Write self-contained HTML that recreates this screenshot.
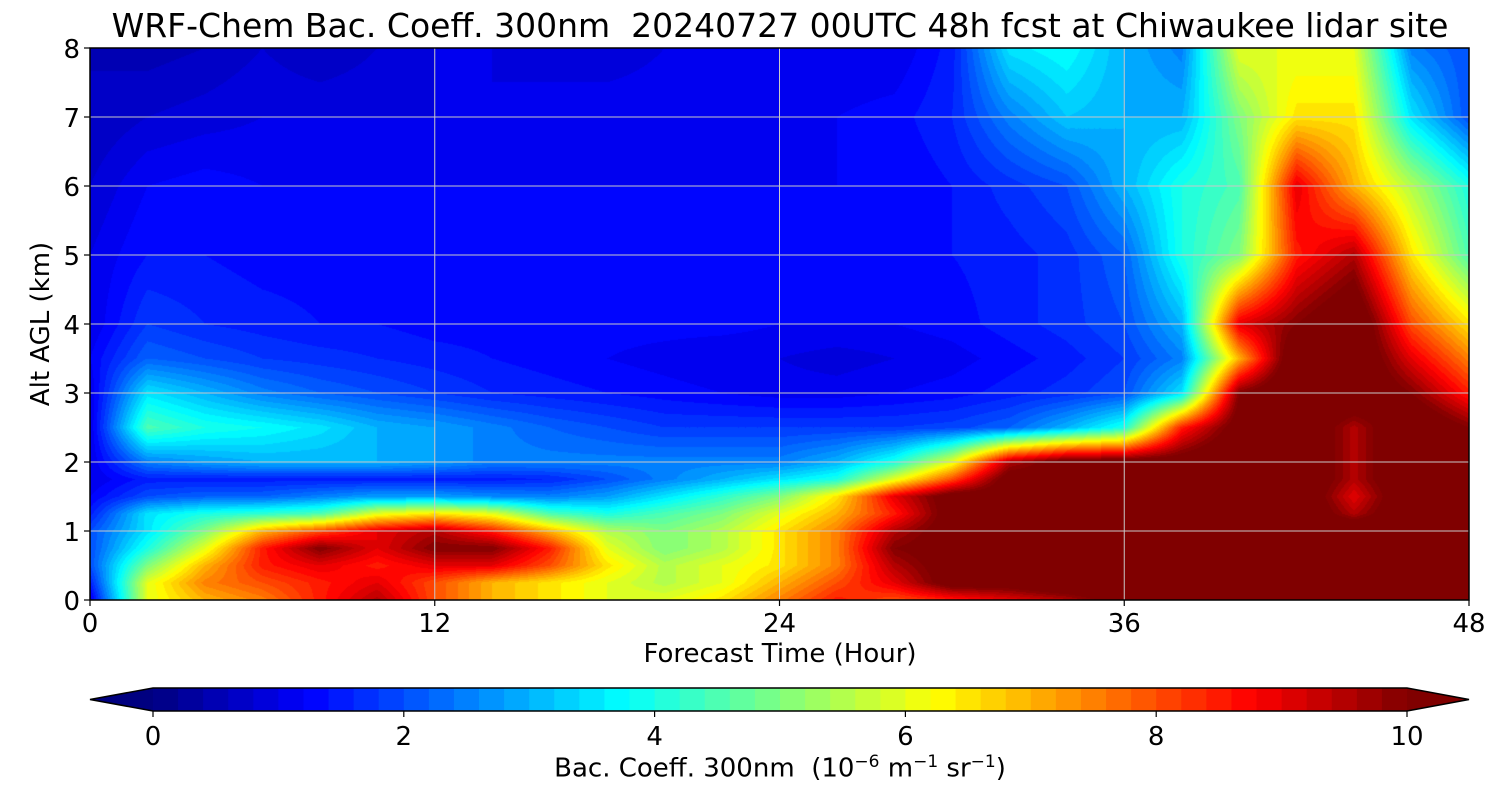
<!DOCTYPE html>
<html><head><meta charset="utf-8">
<style>
body{margin:0;background:#fff;font-family:"DejaVu Sans","Liberation Sans",sans-serif;}
#wrap{position:relative;width:1500px;height:800px;overflow:hidden;}
.t{position:absolute;color:#000;white-space:nowrap;}
</style></head>
<body>
<div id="wrap">
<div class="t" style="left:780px;transform:translateX(-50%);top:6px;font-size:33px;">WRF-Chem Bac. Coeff. 300nm&nbsp; 20240727 00UTC 48h fcst at Chiwaukee lidar site</div>
<canvas id="cv" width="1379" height="552" style="position:absolute;left:90px;top:48px;"></canvas>
<svg id="sv" width="1500" height="800" style="position:absolute;left:0;top:0;"></svg>
<div class="t" style="left:41px;top:324px;font-size:26px;transform:translate(-50%,-50%) rotate(-90deg);">Alt AGL (km)</div>
<div class="t" style="left:780px;top:639px;font-size:26px;transform:translateX(-50%);">Forecast Time (Hour)</div>
<div class="t" style="left:780px;top:752px;font-size:26px;transform:translateX(-50%);">Bac. Coeff. 300nm&nbsp; (10<sup style="font-size:17px">−6</sup> m<sup style="font-size:17px">−1</sup> sr<sup style="font-size:17px">−1</sup>)</div>
</div>
<script>
const times=[0,2,4,6,8,10,12,14,16,18,20,22,24,26,28,30,32,34,36,38,40,42,44,46,48];
const alts=[0,0.25,0.5,0.75,1,1.25,1.5,1.75,2,2.5,3,3.5,4,5,6,7,8];
const row0  =[1,6,7,7.5,8.5,9.5,8,7,6.5,6,6,6.5,7.5,8.5,8,8.5,9,9.5,10.5,11,11,11,11,11,11];
const row025=[1.5,6,7.5,8,8.5,9,8,7,6.5,6,5.5,6,7,8,9,10.5,10.5,11,11,11,11,11,11,11,11];
const row05 =[2,5,7,8.5,9,8.5,9,9,8,6.5,5.5,6,6.5,7.5,9.5,10.5,11,11,11,11,11,11,11,11,11];
const row075=[2,4,6,8.5,10,9,10,10,8.5,6,5,5.5,6.5,7.5,10,10.5,11,11,11,11,11,11,11,11,11];
const row1  =[2,3.5,5,7,8,9,9.5,8.5,7,5.5,5,5.5,6.5,7.5,9.5,10.5,11,11,11,11,11,11,11,11,11];
const row125=[1.5,3.5,4,4.2,4.5,6,6.5,6,4.5,4,4.5,5,6,7,8.5,10.5,10.5,11,11,11,11,11,9.5,11,11];
const row15 =[1.2,2,2.2,2.2,2.5,2.8,2.8,2.6,2.5,2.8,3.5,4.2,5,6.5,9,10.5,10.5,10.5,11,11,11,11,9,11,11];
const row175=[1,1.5,1.5,1.5,1.5,1.5,1.5,1.5,1.6,2,2.5,3,3.5,4,6,8,10.5,10.5,10.5,11,11,11,9.5,11,11];
const row2  =[1,2.5,2.8,3,3,3,2.8,2.5,2.5,2.5,2.5,2.5,2.5,3,4,6,9.5,10.5,10.5,10.5,11,11,9.5,11,11];
const row25 =[1,4.5,4,3.8,3.5,3,2.8,2.5,2.2,2,1.8,1.8,1.8,1.8,1.8,1.9,2.2,3,4,8.5,10.5,11,9.5,11,10];
const row3  =[1,3.5,3,2.5,2.2,2,1.8,1.6,1.5,1.4,1.3,1.2,1.1,1.1,1.2,1.3,1.5,1.7,2,3.5,10,11,11,10,8.5];
const row35 =[1.2,2.2,2,1.8,1.7,1.6,1.5,1.4,1.3,1.2,1.1,1,1,0.9,1,1.1,1.3,1.5,1.8,2.5,7,11,11,9,7.5];
const row4  =[1,1.8,1.6,1.5,1.4,1.4,1.3,1.3,1.3,1.3,1.3,1.3,1.2,1.2,1.2,1.3,1.5,1.7,2,3,9,10,11,8,6.5];
const row5  =[1,1.4,1.4,1.3,1.3,1.3,1.3,1.3,1.3,1.3,1.3,1.3,1.3,1.3,1.3,1.4,1.5,1.7,2.2,4,5,8.5,9.5,6.5,4.5];
const row6  =[0.8,1.2,1.3,1.2,1.2,1.2,1.2,1.2,1.2,1.2,1.2,1.2,1.2,1.2,1.2,1.4,1.7,2,3,4,4.5,9,7,5.5,4];
const row7  =[0.6,0.8,0.9,1,1,1,1,1,1.1,1.1,1.1,1.1,1.2,1.2,1.3,1.6,2.5,3.2,3,3,5,6.5,6.5,3.5,2];
const row8  =[0.6,0.5,0.6,0.8,0.6,0.8,1,1,0.9,0.9,1,1.1,1.2,1,1,1.5,3.5,3.8,3,2.5,6,6,6,2.5,2];
const grid=[row0,row025,row05,row075,row1,row125,row15,row175,row2,row25,row3,row35,row4,row5,row6,row7,row8];
const cbTicks=[0,2,4,6,8,10];
const xTicks=[0,12,24,36,48];
const yTicks=[0,1,2,3,4,5,6,7,8];

const PX=90,PY=48,PW=1379,PH=552;
const xs=t=>PX+t/48*PW, ys=a=>PY+PH-a/8*PH;
function jet(x){x=Math.max(0,Math.min(1,x));const c=v=>Math.round(255*Math.max(0,Math.min(1,v)));
 return [c(1.5-Math.abs(4*x-3)),c(1.5-Math.abs(4*x-2)),c(1.5-Math.abs(4*x-1))];}
function lev(v){if(v>=10)return[128,0,0];if(v<0)return[0,0,128];const k=Math.floor(v/0.2);return jet((k+0.5)/50);}
function interp(t,a){
 let i=0;while(i<times.length-2&&times[i+1]<t)i++;
 let j=0;while(j<alts.length-2&&alts[j+1]<a)j++;
 const ft=(t-times[i])/(times[i+1]-times[i]),fa=(a-alts[j])/(alts[j+1]-alts[j]);
 const v00=grid[j][i],v01=grid[j][i+1],v10=grid[j+1][i],v11=grid[j+1][i+1];
 return (v00*(1-ft)+v01*ft)*(1-fa)+(v10*(1-ft)+v11*ft)*fa;}
const cv=document.getElementById('cv'),ctx=cv.getContext('2d');
const img=ctx.createImageData(PW,PH);
for(let y=0;y<PH;y++){const a=8*(PH-y-0.5)/PH;for(let x=0;x<PW;x++){const t=48*(x+0.5)/PW;
 const c=lev(interp(t,a));const p=(y*PW+x)*4;img.data[p]=c[0];img.data[p+1]=c[1];img.data[p+2]=c[2];img.data[p+3]=255;}}
ctx.putImageData(img,0,0);

const sv=document.getElementById('sv'),NS='http://www.w3.org/2000/svg';
const FF='DejaVu Sans, Liberation Sans, sans-serif';
function el(tag,at){const e=document.createElementNS(NS,tag);for(const k in at)e.setAttribute(k,at[k]);sv.appendChild(e);return e;}
xTicks.forEach(t=>{
 if(t>0&&t<48){const g=el('line',{x1:xs(t),x2:xs(t),y1:PY,y2:PY+PH,stroke:'#c8c8c8','stroke-width':1});
 
 }
 const k=el('line',{x1:xs(t),x2:xs(t),y1:PY+PH,y2:PY+PH+6,stroke:'#000','stroke-width':1.2});
 
 
 const tx=el('text',{x:xs(t),y:632,'font-size':26,'text-anchor':'middle','font-family':FF});tx.textContent=t;
 
 
});
yTicks.forEach(a=>{
 if(a>0&&a<8){const g=el('line',{x1:PX,x2:PX+PW,y1:ys(a),y2:ys(a),stroke:'#c8c8c8','stroke-width':1});
 
 }
 const k=el('line',{x1:PX-6,x2:PX,y1:ys(a),y2:ys(a),stroke:'#000','stroke-width':1.2});
 
 
 const tx=el('text',{x:PX-10,y:ys(a)+10,'font-size':26,'text-anchor':'end','font-family':FF});tx.textContent=a;
 
 
});
const fr=el('rect',{x:PX,y:PY,width:PW,height:PH,fill:'none',stroke:'#000','stroke-width':1.5});


const CX0=153,CX1=1407,CY=688,CH=23,cx=v=>CX0+v/10*(CX1-CX0);
for(let k=0;k<50;k++){const c=jet((k+0.5)/50);
 const r=el('rect',{x:cx(k*0.2),y:CY,width:(CX1-CX0)/50+0.6,height:CH,fill:`rgb(${c})`});
 
 }
const lt=el('polygon',{points:`${CX0},${CY} 90,${CY+CH/2} ${CX0},${CY+CH}`,fill:'rgb(0,0,128)'});


const rt=el('polygon',{points:`${CX1},${CY} 1469,${CY+CH/2} ${CX1},${CY+CH}`,fill:'rgb(128,0,0)'});


const ob=el('polygon',{points:`${CX0},${CY} ${CX1},${CY} 1469,${CY+CH/2} ${CX1},${CY+CH} ${CX0},${CY+CH} 90,${CY+CH/2}`,fill:'none',stroke:'#000','stroke-width':1.5});


cbTicks.forEach(v=>{
 const k=el('line',{x1:cx(v),x2:cx(v),y1:CY+CH,y2:CY+CH+6,stroke:'#000','stroke-width':1.2});
 
 
 const tx=el('text',{x:cx(v),y:745,'font-size':26,'text-anchor':'middle','font-family':FF});tx.textContent=v;
 
 
});
</script>
</body></html>
